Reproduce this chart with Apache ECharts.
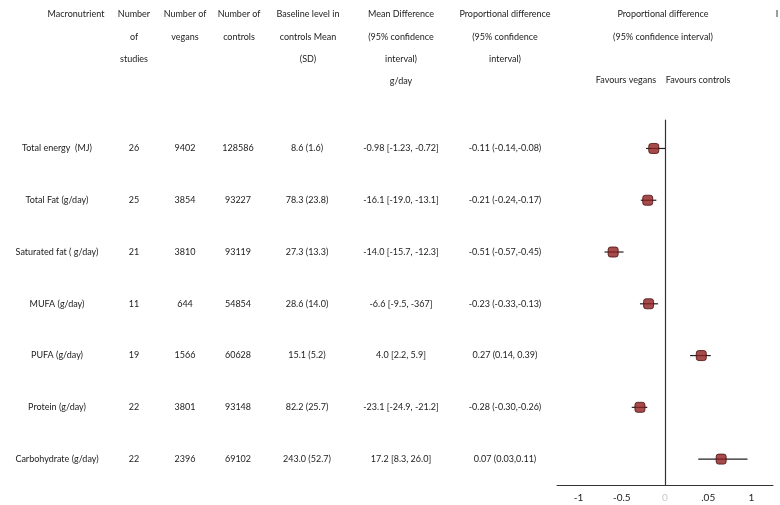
<!DOCTYPE html>
<html><head><meta charset="utf-8">
<script src="https://cdn.jsdelivr.net/npm/echarts@6/dist/echarts.min.js"></script>
<style>html,body{margin:0;padding:0;background:#fff}#c{width:780px;height:505px}</style>
</head><body><div id="c"></div>
<script>
// ---- data ----
const nutrients = ['Total energy  (MJ)','Total Fat (g/day)','Saturated fat ( g/day)','MUFA (g/day)','PUFA (g/day)','Protein (g/day)','Carbohydrate (g/day)'];
const nStudies = ['26','25','21','11','19','22','22'];
const nVegans = ['9402','3854','3810','644','1566','3801','2396'];
const nControls = ['128586','93227','93119','54854','60628','93148','69102'];
const baseline = ['8.6 (1.6)','78.3 (23.8)','27.3 (13.3)','28.6 (14.0)','15.1 (5.2)','82.2 (25.7)','243.0 (52.7)'];
const meanDiff = ['-0.98 [-1.23, -0.72]','-16.1 [-19.0, -13.1]','-14.0 [-15.7, -12.3]','-6.6 [-9.5, -367]','4.0 [2.2, 5.9]','-23.1 [-24.9, -21.2]','17.2 [8.3, 26.0]'];
const propDiff = ['-0.11 (-0.14,-0.08)','-0.21 (-0.24,-0.17)','-0.51 (-0.57,-0.45)','-0.23 (-0.33,-0.13)','0.27 (0.14, 0.39)','-0.28 (-0.30,-0.26)','0.07 (0.03,0.11)'];
// plotted estimates (as drawn in the figure)
const pointEst = [-0.13,-0.20,-0.60,-0.19,0.42,-0.29,0.65];
const ciLow = [-0.22,-0.28,-0.70,-0.29,0.29,-0.385,0.385];
const ciHigh = [0.0,-0.10,-0.48,-0.08,0.53,-0.205,0.955];
const tickValues = [-1,-0.5,0,0.5,1];
const tickLabels = ['-1','-0.5','0','.05','1'];

const headers = [
  ['Macronutrient'],
  ['Number','of','studies'],
  ['Number of','vegans'],
  ['Number of','controls'],
  ['Baseline level in','controls Mean','(SD)'],
  ['Mean Difference','(95% confidence','interval)','g/day'],
  ['Proportional difference','(95% confidence','interval)'],
  ['Proportional difference','(95% confidence interval)']
];
const favours = ['Favours vegans','Favours controls'];

// ---- layout ----
const FONT = 'Lato, "Open Sans", sans-serif';
const headerX = [76,134,185,239,308,401,505,663];
const colX = [57,134,185,238,307,401,505];
const headerY = [14,37,59,81];
const favX = [626,698];
const textColor = '#222';

const chart = echarts.init(document.getElementById('c'), null, {renderer:'canvas'});
const rows = nutrients.map((n,i)=>i+1);

const option = {
  animation:false,
  backgroundColor:'#fff',
  grid:{left:557,right:7,top:120,bottom:20},
  xAxis:{
    type:'value', min:-1.25, max:1.25,
    splitLine:{show:false},
    axisLine:{show:true,onZero:false,lineStyle:{color:'#333',width:1}},
    axisTick:{show:false},
    axisLabel:{
      customValues:tickValues, margin:8, fontFamily:FONT, fontSize:10, color:textColor,
      formatter:(v)=>{const k=tickValues.findIndex(t=>Math.abs(t-v)<1e-9); const s=k>=0?tickLabels[k]:''; return v===0?'{z|'+s+'}':s;},
      rich:{z:{color:'#c8c8c8',fontFamily:FONT,fontSize:10}}
    }
  },
  yAxis:{
    type:'value', inverse:true, min:0.45, max:7.5,
    splitLine:{show:false},
    axisLabel:{show:false},
    axisTick:{show:false},
    axisLine:{show:true,onZero:true,lineStyle:{color:'#333',width:1.2}}
  },
  series:[
    {
      type:'custom',
      renderItem:(params,api)=>{
        const y=api.value(0), lo=api.value(1), hi=api.value(2);
        const p1=api.coord([lo,y]), p2=api.coord([hi,y]);
        return {type:'line',shape:{x1:p1[0],y1:p1[1],x2:p2[0],y2:p2[1]},style:{stroke:'#222',lineWidth:1.2}};
      },
      encode:{x:[1,2],y:0},
      data:rows.map((r,i)=>[r,ciLow[i],ciHigh[i]]),
      z:2
    },
    {
      type:'scatter',
      symbol:'roundRect', symbolSize:10,
      itemStyle:{color:'#8e1e1e',borderColor:'#4a0e0e',borderWidth:1},
      data:rows.map((r,i)=>[pointEst[i],r]),
      z:3
    }
  ]
};
chart.setOption(option);

// table text placed at the same rows as the chart's y scale
const g=[];
function txt(x,y,s,opts){g.push({type:'text',x:x,y:y,silent:true,style:Object.assign({text:s,font:'9px '+FONT,fill:textColor,align:'center',verticalAlign:'middle'},opts||{})});}
headers.forEach((h,ci)=>h.forEach((line,li)=>txt(headerX[ci],headerY[li],line)));
favours.forEach((f,i)=>txt(favX[i],headerY[3]-1,f));
txt(777,14,'I');
const cols=[nutrients,nStudies,nVegans,nControls,baseline,meanDiff,propDiff];
rows.forEach((r,i)=>{
  const y=chart.convertToPixel({yAxisIndex:0},r);
  cols.forEach((c,ci)=>txt(colX[ci],y,c[i]));
});
chart.setOption({graphic:{elements:g}});
</script></body></html>
